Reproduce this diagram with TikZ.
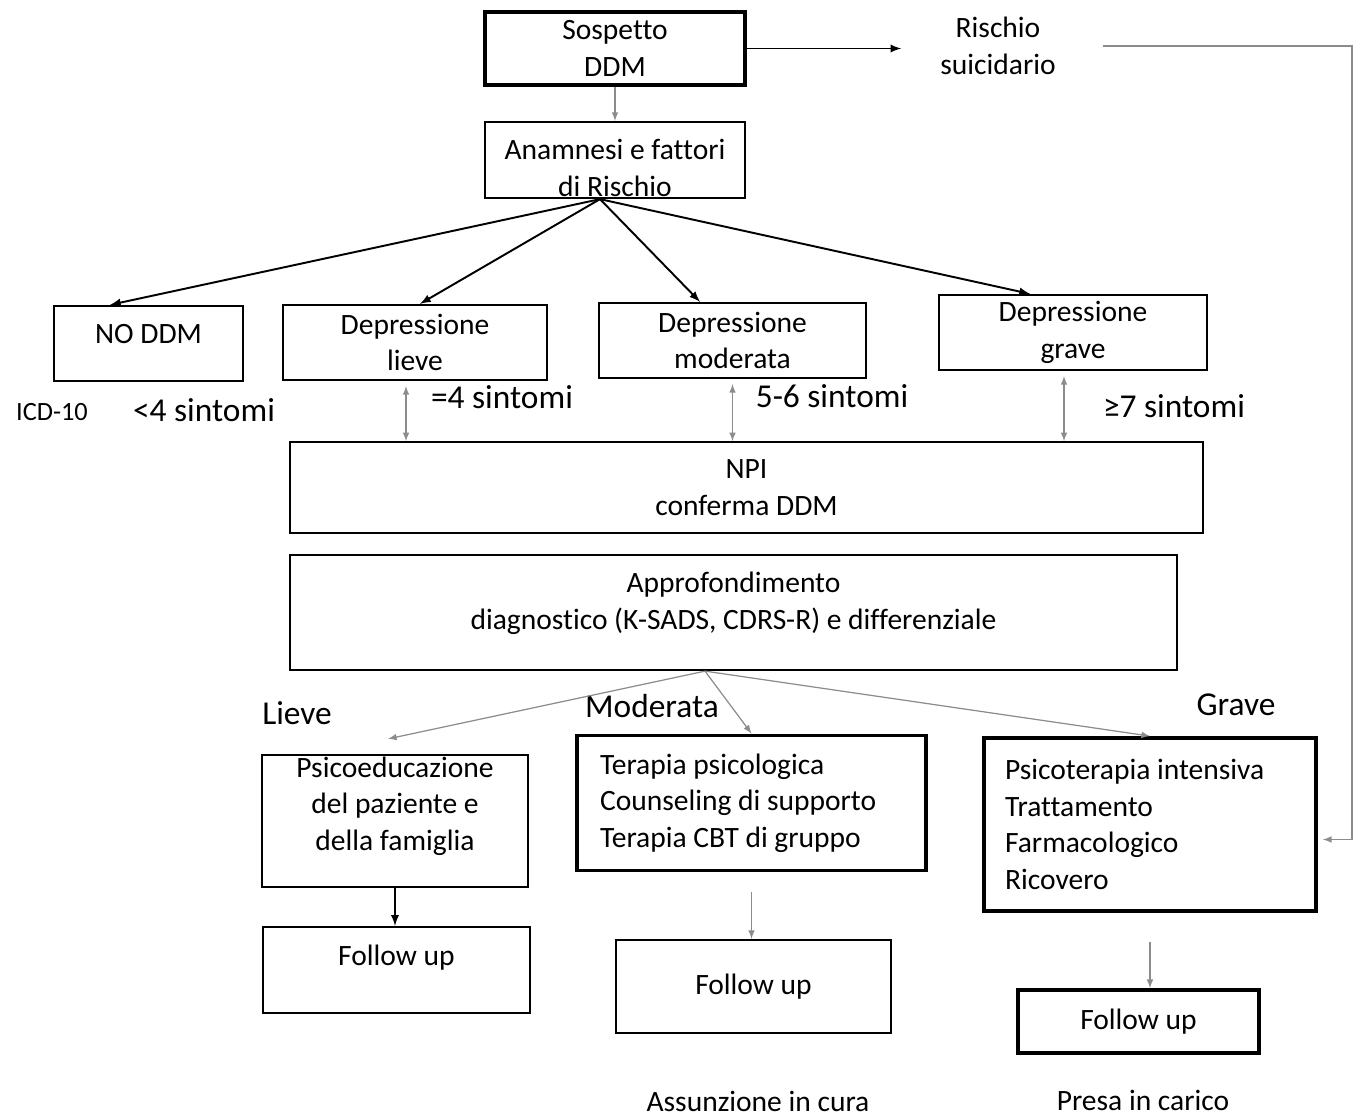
\documentclass[tikz,border=0pt]{standalone}
\usepackage{fontspec}
\setmainfont{Carlito}[Ligatures=NoCommon]
\usetikzlibrary{arrows,positioning,calc}
\definecolor{scangray}{gray}{0.55}
\newcommand{\boxfont}{\fontsize{16.8}{20.8}\selectfont}
\newcommand{\tagfont}{\fontsize{19}{22}\selectfont}
\tikzstyle{box}=[draw, line width=1.3pt, inner sep=0pt, align=center, font=\boxfont]
\tikzstyle{heavy box}=[box, line width=2.2pt]
\tikzstyle{light box}=[box, line width=.9pt]
\tikzstyle{tag}=[inner sep=1pt, font=\tagfont]
\tikzstyle{link}=[->, line width=1.1pt]
\tikzstyle{faint link}=[->, scangray, line width=.7pt]

\begin{document}
\begin{tikzpicture}[>=latex, x=.02cm, y=-.02cm]
    \useasboundingbox (0,0) rectangle (1356,1116);

    % Suspicion and history
    \draw (615,48.5) node[heavy box, minimum width=5.2cm, minimum height=1.46cm] (sosp) {Sospetto\\DDM};
    \draw (998,46) node[font=\boxfont, align=center, inner sep=1pt] (risc) {Rischio\\suicidario};
    \draw (615,160) node[box, minimum width=5.2cm, minimum height=1.52cm, text height=41pt, text depth=0pt] (anam) {Anamnesi e fattori\\di Rischio};

    % Severity
    \draw (148.5,343.5) node[box, minimum width=3.78cm, minimum height=1.5cm, text depth=11.4pt] (nodd) {NO DDM};
    \draw (415,342.5) node[box, minimum width=5.28cm, minimum height=1.5cm] (lieve) {Depressione\\lieve};
    \draw (732.5,340.5) node[box, minimum width=5.34cm, minimum height=1.5cm] (moder) {Depressione\\moderata};
    \draw (1073,332.5) node[box, minimum width=5.36cm, minimum height=1.5cm] (grav) {Depressione\\grave};

    \draw (52,412) node[font=\fontsize{15}{18}\selectfont] (icd) {ICD-10};
    \draw (204,410) node[tag] (lt4) {<4 sintomi};
    \draw (502,397) node[tag] (eq4) {=4 sintomi};
    \draw (832,396) node[tag] (s56) {5-6 sintomi};
    \draw (1174,406) node[tag] (ge7) {≥7 sintomi};

    % Confirmation
    \draw (746.5,487.5) node[light box, minimum width=18.26cm, minimum height=1.82cm] (npi) {NPI\\conferma DDM};
    \draw (733.5,612.5) node[box, minimum width=17.74cm, minimum height=2.3cm, text depth=13.6pt] (appr) {Approfondimento\\diagnostico (K-SADS, CDRS-R) e differenziale};

    % Treatment
    \draw (297,713) node[tag] (lvtag) {Lieve};
    \draw (652,706) node[tag] (mdtag) {Moderata};
    \draw (1236,705) node[tag] (grtag) {Grave};
    \draw (395,821) node[box, minimum width=5.32cm, minimum height=2.64cm, text depth=20pt] (psico) {Psicoeducazione\\del paziente e\\della famiglia};
    \draw (751.5,803) node[heavy box, minimum width=6.98cm, minimum height=2.7cm, text width=6.06cm, align=flush left] (terap) {Terapia psicologica\\Counseling di supporto\\Terapia CBT di gruppo};
    \draw (1150,824.5) node[heavy box, minimum width=6.64cm, minimum height=3.46cm, text width=5.8cm, align=flush left] (sever) {Psicoterapia intensiva\\Trattamento\\Farmacologico\\Ricovero};

    % Follow up
    \draw (396.5,970) node[box, minimum width=5.34cm, minimum height=1.72cm, text depth=17pt] (fu1) {Follow up};
    \draw (753.5,986.5) node[box, minimum width=5.5cm, minimum height=1.86cm] (fu2) {Follow up};
    \draw (1138.5,1021.5) node[heavy box, minimum width=4.82cm, minimum height=1.26cm] (fu3) {Follow up};
    \draw (758,1101) node[font=\boxfont] (cura) {Assunzione in cura};
    \draw (1143,1100) node[font=\boxfont] (carico) {Presa in carico};

    % Connectors
    \draw[link, shorten >=.74cm] (sosp.east) -- (sosp.east -| risc.west);
    \coordinate (bend) at (1352,600);
    \draw[faint link, shorten <=.9cm, shorten >=.1cm] (risc.east) -| (bend) |- ([yshift=-.3cm]sever.east);
    \draw[faint link] (sosp) -- (anam);
    \foreach \to/\dx in {nodd/-.77, lieve/.1, moder/-.65, grav/-.86}
        \draw[link] ([xshift=-.3cm]anam.south) -- ([xshift=\dx cm]\to.north);
    \foreach \to/\dx in {lieve/-.18, moder/0, grav/-.18}
        \draw[faint link, <->, shorten <=.1cm] ([xshift=\dx cm]\to.south) -- ([xshift=\dx cm]\to.south |- npi.north);
    \draw[faint link] ([xshift=-.57cm]appr.south) -- ([xshift=-.14cm, yshift=.3cm]psico.north);
    \draw[faint link] ([xshift=-.57cm]appr.south) -- (terap.north);
    \draw[faint link] ([xshift=-.57cm]appr.south) -- (sever.north);
    \draw[link] (psico.south) -- (psico.south |- fu1.north);
    \draw[faint link, shorten <=.4cm] (terap.south) -- (terap.south |- fu2.north);
    \draw[faint link, shorten <=.58cm] (sever.south) -- (sever.south |- fu3.north);

\end{tikzpicture}
\end{document}
